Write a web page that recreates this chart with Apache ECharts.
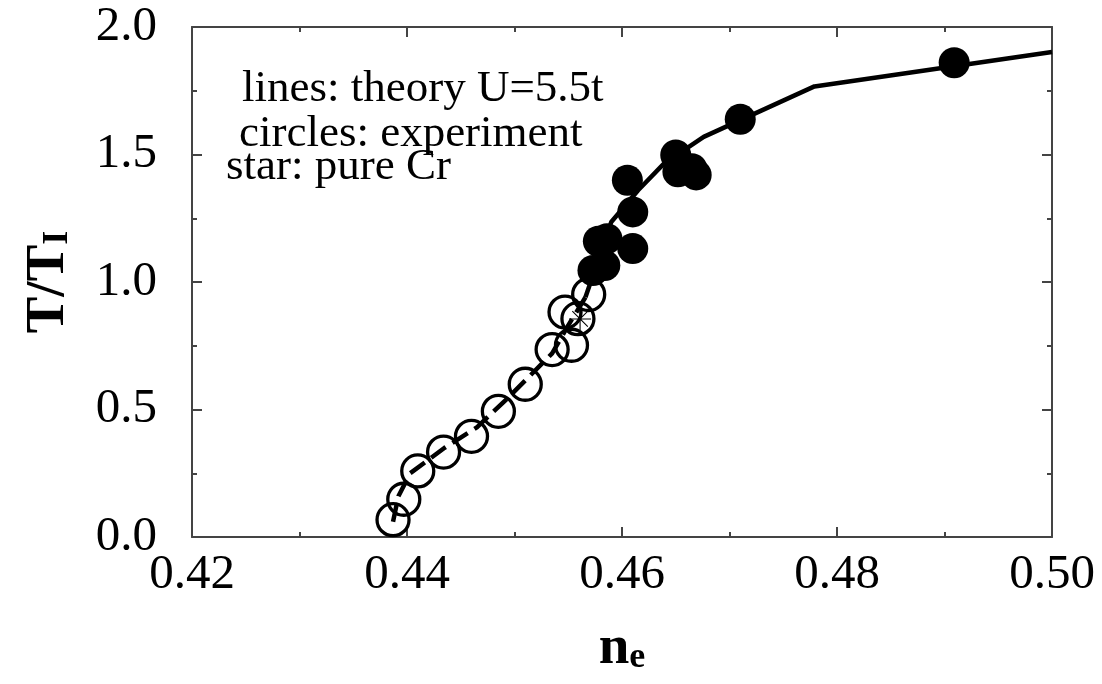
<!DOCTYPE html>
<html>
<head>
<meta charset="utf-8">
<script src="https://cdn.jsdelivr.net/npm/echarts@6/dist/echarts.min.js"></script>
<style>
html,body{margin:0;padding:0;background:#fff;}
#c{width:1102px;height:684px;}
</style>
</head>
<body>
<div id="c"></div>
<script>
// ---- data ----
var xTicks = [0.42, 0.44, 0.46, 0.48, 0.50];
var yTicks = [0.0, 0.5, 1.0, 1.5, 2.0];

// theory, dashed part (low n_e)
var dashedX = [0.4387, 0.4392, 0.4403, 0.4435, 0.4465, 0.4495, 0.4535, 0.4550, 0.4566];
var dashedY = [0.06, 0.16, 0.25, 0.35, 0.43, 0.55, 0.72, 0.83, 0.94];

// theory, solid part
var solidX = [0.4566, 0.4590, 0.4615, 0.4639, 0.4676, 0.4779, 0.5000];
var solidY = [0.94, 1.235, 1.36, 1.464, 1.569, 1.767, 1.902];

// experiment, open circles
var openX = [0.4387, 0.4397, 0.4410, 0.4434, 0.4460, 0.4485, 0.4510, 0.4535, 0.4553, 0.4547, 0.4559, 0.4569];
var openY = [0.068, 0.148, 0.259, 0.333, 0.395, 0.493, 0.599, 0.735, 0.752, 0.882, 0.856, 0.951];

// experiment, filled circles
var filledX = [0.4573, 0.4584, 0.4578, 0.4586, 0.4610, 0.4610, 0.4605, 0.4650, 0.4652, 0.4665, 0.4669, 0.4710, 0.4909];
var filledY = [1.045, 1.065, 1.160, 1.170, 1.131, 1.275, 1.399, 1.498, 1.432, 1.444, 1.420, 1.638, 1.860];

// pure Cr, star
var starX = [0.4561];
var starY = [0.855];

var notes = ['lines: theory U=5.5t', 'circles: experiment', 'star: pure Cr'];

function zip(a, b) { return a.map(function (v, i) { return [v, b[i]]; }); }

var SERIF = '"Liberation Serif", "DejaVu Serif", serif';
var axisCol = '#444';

var chart = echarts.init(document.getElementById('c'), null, {renderer: 'canvas'});

var starPath = 'path://M9.5,0 L10.5,0 L10.5,20 L9.5,20 Z M0,9.5 L20,9.5 L20,10.5 L0,10.5 Z ' +
  'M2.6,3.3 L3.3,2.6 L17.4,16.7 L16.7,17.4 Z M16.7,2.6 L17.4,3.3 L3.3,17.4 L2.6,16.7 Z';

function baseAxis(extra) {
  var o = {
    type: 'value',
    splitLine: {show: false},
    axisLine: {show: true, onZero: false, lineStyle: {color: axisCol, width: 2}},
    axisTick: {show: true, inside: true, length: 10, lineStyle: {color: axisCol, width: 2}},
    minorTick: {show: true, splitNumber: 2, length: 5, lineStyle: {color: axisCol, width: 2}},
    minorSplitLine: {show: false}
  };
  for (var k in extra) o[k] = extra[k];
  return o;
}

var titleRich = {
  a: {fontFamily: SERIF, fontWeight: 'bold', fontSize: 55, lineHeight: 55, color: '#000', verticalAlign: 'middle'},
  s: {fontFamily: SERIF, fontWeight: 'bold', fontSize: 36, lineHeight: 36, color: '#000', verticalAlign: 'bottom', padding: [32, 0, 0, 0]}
};

var option = {
  backgroundColor: '#ffffff',
  animation: false,
  grid: {left: 183, right: 50, top: 27, bottom: 147, containLabel: false},
  xAxis: [
    baseAxis({
      position: 'bottom', min: xTicks[0], max: xTicks[xTicks.length - 1], interval: 0.02,
      axisLabel: {
        fontFamily: SERIF, fontSize: 49, color: '#000', margin: 14,
        formatter: function (v) { return v.toFixed(2); }
      },
      name: '{a|n}{s|e}', nameLocation: 'middle', nameGap: 84,
      nameTextStyle: {rich: titleRich}
    }),
    baseAxis({
      position: 'top', min: xTicks[0], max: xTicks[xTicks.length - 1], interval: 0.02,
      axisLabel: {show: false}
    })
  ],
  yAxis: [
    baseAxis({
      position: 'left', min: yTicks[0], max: yTicks[yTicks.length - 1], interval: 0.5,
      axisLabel: {
        fontFamily: SERIF, fontSize: 49, color: '#000', margin: 35,
        formatter: function (v) { return v.toFixed(1); }
      },
      name: '{a|T/T}{s|I}', nameLocation: 'middle', nameGap: 116, nameRotate: 90,
      nameTextStyle: {rich: titleRich}
    }),
    baseAxis({
      position: 'right', min: yTicks[0], max: yTicks[yTicks.length - 1], interval: 0.5,
      axisLabel: {show: false}
    })
  ],
  series: [
    {
      name: 'theory dashed', type: 'line', data: zip(dashedX, dashedY),
      showSymbol: false, symbol: 'none', z: 2,
      lineStyle: {color: '#000', width: 4.5, type: [18, 8], opacity: 1}
    },
    {
      name: 'theory solid', type: 'line', data: zip(solidX, solidY),
      showSymbol: false, symbol: 'none', z: 2,
      lineStyle: {color: '#000', width: 4.5, opacity: 1}
    },
    {
      name: 'pure Cr', type: 'scatter', data: zip(starX, starY),
      symbol: starPath, symbolSize: 22, z: 3,
      itemStyle: {color: '#000', opacity: 1}
    },
    {
      name: 'experiment open', type: 'scatter', data: zip(openX, openY),
      symbol: 'circle', symbolSize: 32, z: 4,
      itemStyle: {color: 'rgba(0,0,0,0)', borderColor: '#000', borderWidth: 3.3, opacity: 1}
    },
    {
      name: 'experiment filled', type: 'scatter', data: zip(filledX, filledY),
      symbol: 'circle', symbolSize: 31, z: 5,
      itemStyle: {color: '#000', opacity: 1}
    }
  ],
  graphic: [
    {type: 'text', left: 242, top: 67, style: {text: notes[0], font: '45px ' + SERIF, fill: '#000'}},
    {type: 'text', left: 239, top: 112, style: {text: notes[1], font: '45px ' + SERIF, fill: '#000'}},
    {type: 'text', left: 226, top: 145, style: {text: notes[2], font: '45px ' + SERIF, fill: '#000'}}
  ]
};

chart.setOption(option);
</script>
</body>
</html>
